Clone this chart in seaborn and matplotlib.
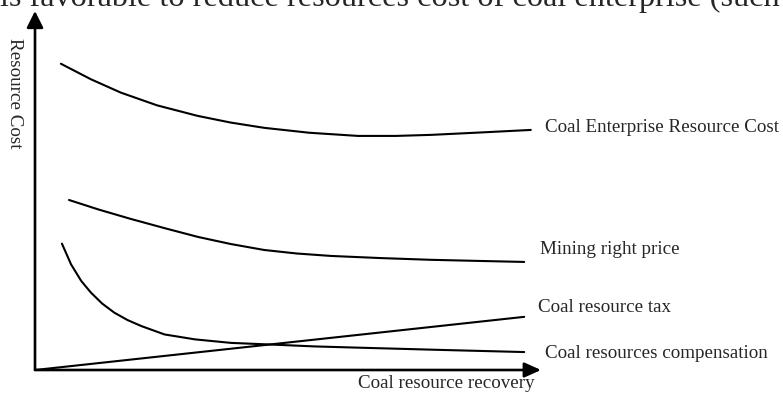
import numpy as np
import pandas as pd
import seaborn as sns
import matplotlib.pyplot as plt

# curve values (x = coal resource recovery, y = resource cost, both 0-100)
enterprise_x = [5.1, 11.0, 16.9, 24.0, 32.0, 38.5, 45.1, 54.0, 63.6, 71.0, 78.0, 88.0, 97.6]
enterprise_y = [87.0, 82.6, 78.8, 75.2, 72.2, 70.3, 68.8, 67.4, 66.5, 66.5, 66.8, 67.5, 68.2]

mining_x = [6.7, 12.5, 18.9, 25.5, 32.1, 38.5, 45.1, 51.5, 58.3, 68.0, 78.0, 87.0, 96.3]
mining_y = [48.3, 45.6, 42.9, 40.3, 37.8, 35.8, 34.1, 33.1, 32.4, 31.8, 31.3, 31.0, 30.7]

comp_x = [5.3, 7.1, 9.1, 11.0, 13.2, 15.6, 18.2, 20.9, 25.5, 31.5, 38.6, 47.0, 55.0, 64.8, 80.0, 96.3]
comp_y = [35.9, 30.0, 25.3, 22.0, 18.9, 16.3, 14.2, 12.5, 10.1, 8.7, 7.7, 7.2, 6.7, 6.3, 5.7, 5.1]

tax_x = [0.0, 96.3]
tax_y = [0.0, 15.1]

series_names = ["Coal Enterprise Resource Cost", "Mining right price",
                "Coal resource tax", "Coal resources compensation"]
x_label = "Coal resource recovery"
y_label = "Resource Cost"
top_text = "is favorable to reduce resources cost of coal enterprise (such"

frames = []
for name, xs, ys in zip(series_names,
                        [enterprise_x, mining_x, tax_x, comp_x],
                        [enterprise_y, mining_y, tax_y, comp_y]):
    frames.append(pd.DataFrame({"recovery": xs, "cost": ys, "series": name}))
df = pd.concat(frames, ignore_index=True)

sns.set_theme(style="white")
plt.rcParams["font.family"] = ["Liberation Serif", "DejaVu Serif"]

fig = plt.figure(figsize=(7.83, 3.94), dpi=100)
W, H = 783, 394
# origin of the chart axes at pixel (35, 370), arrow tips at x=541 and y=11
ax = fig.add_axes([35 / W, (H - 370) / H, (541 - 35) / W, (370 - 11) / H])
ax.set_xlim(0, 100 * 506 / 508)
ax.set_ylim(0, 100 * 359 / 352)

sns.lineplot(data=df, x="recovery", y="cost", units="series", estimator=None,
             sort=False, color="black", linewidth=1.5, ax=ax)

ax.set_xticks([])
ax.set_yticks([])
ax.set_xlabel("")
ax.set_ylabel("")
for s in ax.spines.values():
    s.set_visible(False)

# axis arrows
ax.annotate("", xy=(0, 1), xytext=(0, 0), xycoords="axes fraction",
            arrowprops=dict(arrowstyle="-|>,head_length=1.0,head_width=0.5",
                            mutation_scale=10, lw=1.9, color="black",
                            shrinkA=0, shrinkB=0))
ax.annotate("", xy=(1, 0), xytext=(0, 0), xycoords="axes fraction",
            arrowprops=dict(arrowstyle="-|>,head_length=1.0,head_width=0.45",
                            mutation_scale=10, lw=1.9, color="black",
                            shrinkA=0, shrinkB=0))

# series labels at the right end of each curve
label_pos = {
    "Coal Enterprise Resource Cost": (545, 128),
    "Mining right price": (540, 250),
    "Coal resource tax": (538, 307),
    "Coal resources compensation": (545, 353),
}
fs = 13.7
for name, (px, py) in label_pos.items():
    fig.text(px / W, 1 - py / H, name, fontsize=fs, ha="left", va="center")

fig.text(358 / W, 1 - 383 / H, x_label, fontsize=fs, ha="left", va="center")
fig.text(14 / W, 1 - 93 / H, y_label, fontsize=fs, rotation=-90,
         ha="center", va="center")

# clipped line of body text above the figure
fig.text(0 / W, 1 - 6 / H, top_text, fontsize=23.2, ha="left", va="baseline")

fig.savefig("out.png", dpi=100)
